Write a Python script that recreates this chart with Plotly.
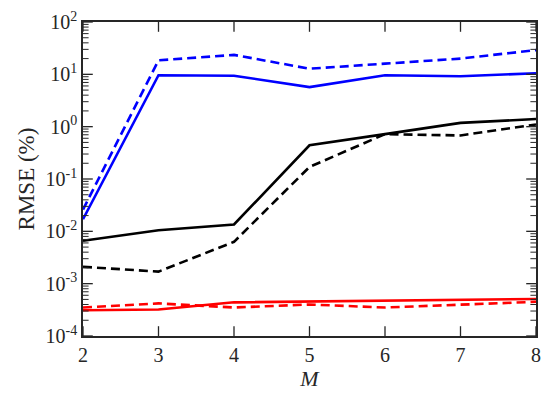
import plotly.graph_objects as go

M = [2, 3, 4, 5, 6, 7, 8]
blue_solid = [0.017, 9.6, 9.4, 5.7, 9.6, 9.2, 10.5]
blue_dashed = [0.026, 18.5, 23.5, 12.8, 16.0, 20.0, 29.0]
black_solid = [0.0066, 0.0105, 0.0135, 0.44, 0.72, 1.18, 1.4]
black_dashed = [0.0021, 0.0017, 0.0063, 0.17, 0.72, 0.68, 1.1]
red_solid = [0.00031, 0.00032, 0.00044, 0.00046, 0.00047, 0.0005, 0.00051]
red_dashed = [0.00035, 0.00042, 0.00035, 0.00040, 0.00035, 0.00040, 0.00045]
y_exponents = [-4, -3, -2, -1, 0, 1, 2]

series = [
    (blue_solid, "#0000ff", "solid"),
    (blue_dashed, "#0000ff", "9px,5px"),
    (black_solid, "#000000", "solid"),
    (black_dashed, "#000000", "9px,5px"),
    (red_solid, "#ff0000", "solid"),
    (red_dashed, "#ff0000", "9px,5px"),
]

fig = go.Figure()
for ys, c, d in series:
    fig.add_trace(go.Scatter(x=M, y=ys, mode="lines",
                             line=dict(color=c, width=2.6, dash=d),
                             showlegend=False, hoverinfo="skip"))

major_vals = [10.0 ** e for e in y_exponents]
major_text = ["10<sup>%d</sup>" % e for e in y_exponents]
minor_vals = [k * 10.0 ** e for e in y_exponents[:-1] for k in range(2, 10)]
x_lo, x_hi = M[0], M[-1]
y_lo, y_hi = major_vals[0], major_vals[-1]

axcol = "#262626"
# inside tick marks: axis-centred line markers, half clipped away by the plot area
def tick_trace(xs, ys, symbol, size, width):
    return go.Scatter(x=xs, y=ys, mode="markers", cliponaxis=True,
                      marker=dict(symbol=symbol, size=size,
                                  line=dict(color=axcol, width=width)),
                      showlegend=False, hoverinfo="skip")

fig.add_trace(tick_trace(M + M, [y_lo] * len(M) + [y_hi] * len(M), "line-ns", 14, 1.3))
fig.add_trace(tick_trace([x_lo] * len(major_vals) + [x_hi] * len(major_vals),
                         major_vals + major_vals, "line-ew", 14, 1.3))
fig.add_trace(tick_trace([x_lo] * len(minor_vals) + [x_hi] * len(minor_vals),
                         minor_vals + minor_vals, "line-ew", 8, 1.0))

font = "Times New Roman, Liberation Serif, DejaVu Serif, serif"
fig.update_layout(
    width=550, height=394,
    margin=dict(l=83, r=9, t=16, b=58),
    plot_bgcolor="white", paper_bgcolor="white",
    font=dict(family=font, size=20, color=axcol),
    xaxis=dict(range=[2, 8], tickvals=M, ticks="", showline=True,
               linecolor=axcol, linewidth=1.6, mirror=True,
               showgrid=False, zeroline=False,
               tickfont=dict(family=font, size=20, color=axcol),
               title=dict(text="<i>M</i>", standoff=2,
                          font=dict(family=font, size=22, color=axcol))),
    yaxis=dict(type="log", range=[-4, 2], tickvals=major_vals, ticktext=major_text,
               ticks="", showline=True, linecolor=axcol, linewidth=1.6, mirror=True,
               showgrid=False, zeroline=False,
               tickfont=dict(family=font, size=20, color=axcol),
               title=dict(text="RMSE (%)", standoff=4,
                          font=dict(family=font, size=23, color=axcol))),
)
fig.write_html("out.html", config={"displayModeBar": False},
               post_script="document.body.style.margin='0';document.body.style.overflow='hidden';")
